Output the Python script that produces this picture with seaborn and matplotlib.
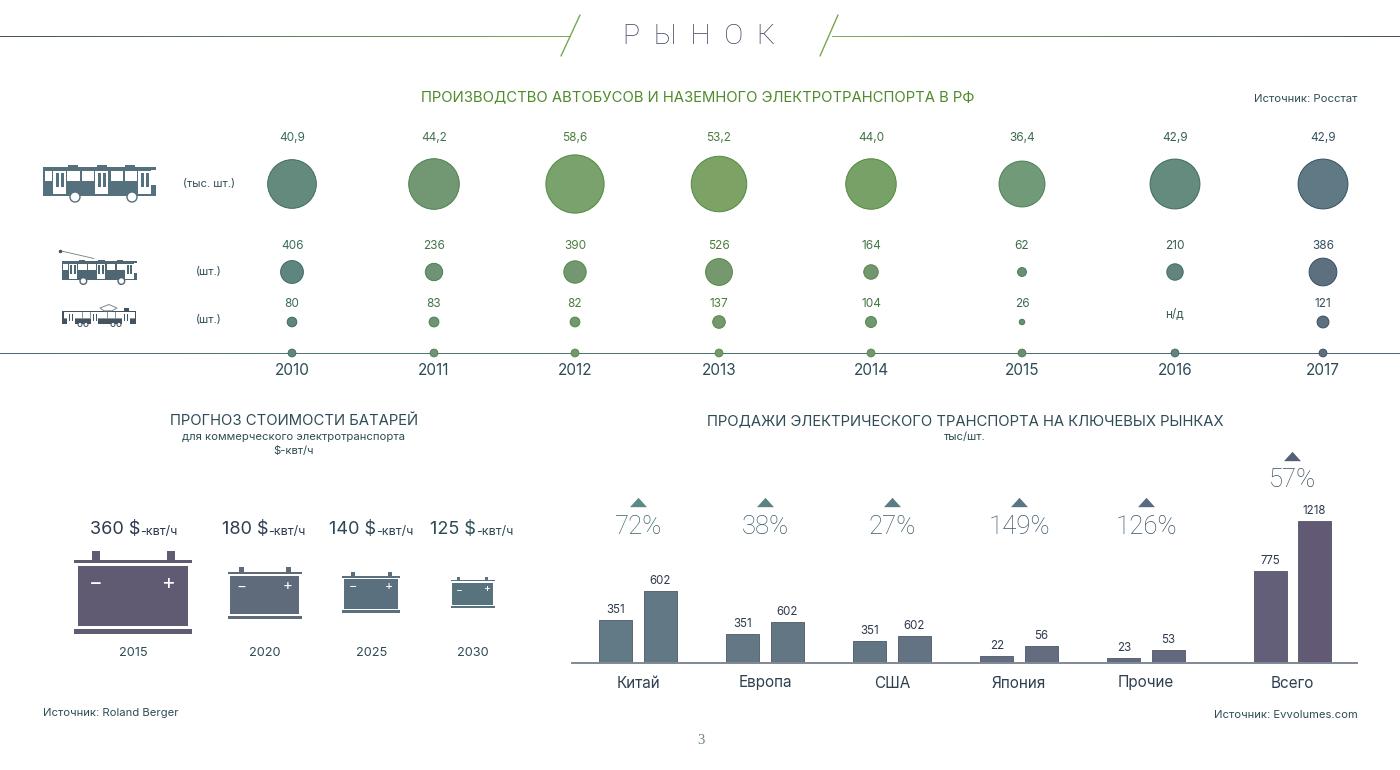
import numpy as np
import pandas as pd
import matplotlib.pyplot as plt
from matplotlib.collections import LineCollection
from matplotlib.patches import Circle, Polygon, Rectangle
import seaborn as sns

# data
years = [2010, 2011, 2012, 2013, 2014, 2015, 2016, 2017]
bus_values = [40.9, 44.2, 58.6, 53.2, 44.0, 36.4, 42.9, 42.9]
bus_labels = ['40,9', '44,2', '58,6', '53,2', '44,0', '36,4', '42,9', '42,9']
trolley_values = [406, 236, 390, 526, 164, 62, 210, 386]
trolley_drawn = [406, 236, 390, 560, 164, 62, 210, 600]  # 2017 circle is bigger than its label says
tram_labels = ['80', '83', '82', '137', '104', '26', 'н/д', '121']
tram_drawn = [80, 83, 82, 137, 104, 26, np.nan, 121]

battery_years = ['2015', '2020', '2025', '2030']
battery_prices = ['360', '180', '140', '125']

markets = ['Китай', 'Европа', 'США', 'Япония', 'Прочие', 'Всего']
sales_labels_a = ['351', '351', '351', '22', '23', '775']
sales_labels_b = ['602', '602', '602', '56', '53', '1218']
# bar heights as drawn, they do not follow the printed numbers
sales_height_a = [43, 29, 22, 7, 5, 92]
sales_height_b = [72, 41, 27, 17, 13, 142]
growth = ['72%', '38%', '27%', '149%', '126%', '57%']

# layout
YEAR_PX = [292, 434, 575, 719, 871, 1022, 1175, 1323]
MARKET_POS = [0, 1, 2, 3, 4, 5.15]
BUS_COLORS = ['#648a7d', '#719873', '#7aa26c', '#7ca365', '#78a168', '#719a78', '#658a7e', '#5f7a85']
SMALL_COLORS = ['#5f857f', '#6e9376', '#739871', '#76986f', '#72966f', '#698f70', '#628480', '#5e6f7f']
EDGE_COLORS = ['#3f6a60', '#4d8050', '#4f8a3e', '#4f8a3e', '#4f8a3e', '#4a7f55', '#3d6a60', '#35505f']
DARK_TEAL = '#2e4c56'
GREEN = '#4f8a2b'

sns.set_theme(style='white')
plt.rcParams['font.family'] = ['Inter', 'DejaVu Sans']

fig = plt.figure(figsize=(14, 7.7), dpi=100, facecolor='white')


def px_axes(left, top, right, bottom):
    return fig.add_axes([left / 1400, 1 - bottom / 770, (right - left) / 1400, (bottom - top) / 770])


canvas = px_axes(0, 0, 1400, 770)
canvas.set_xlim(0, 1400)
canvas.set_ylim(770, 0)
canvas.axis('off')


def txt(x, y, s, size, color=DARK_TEAL, ha='center', **kw):
    canvas.text(x, y, s, fontsize=size, color=color, ha=ha, va='center', **kw)


def gradient_line(x0, x1, y, c0, c1, n=80):
    xs = np.linspace(x0, x1, n + 1)
    segs = [[(xs[i], y), (xs[i + 1], y)] for i in range(n)]
    canvas.add_collection(LineCollection(segs, colors=sns.blend_palette([c0, c1], n), linewidths=0.72,
                                         antialiaseds=False, capstyle='butt'))


def draw_bus(ox, oy, k, col):
    # k = pixels per unit of the icon, origin at the top left of the body
    def r(x0, y0, x1, y1, c=col):
        canvas.add_patch(Rectangle((ox + x0 * k, oy + y0 * k), (x1 - x0) * k, (y1 - y0) * k, fc=c, lw=0))

    r(0, 0, 113, 29)
    for b in (25, 54, 82):
        r(b, -2, b + 10, 0)
    for a, b in ((2, 9), (24, 37), (39, 51), (68, 80), (82, 94)):
        r(a, 4, b, 14, 'white')
    r(108, 3, 113, 18, 'white')
    for d in (10, 52, 95):
        r(d, 4, d + 13, 27, 'white')
        r(d + 2.5, 6, d + 5.5, 20)
        r(d + 7.5, 6, d + 10.5, 20)
    for w in (32, 89):
        canvas.add_patch(Circle((ox + w * k, oy + 30 * k), 5 * k, fc='white', ec=col, lw=1, zorder=3))


def draw_tram(ox, oy, col):
    def r(x0, y0, x1, y1, c=col):
        canvas.add_patch(Rectangle((ox + x0, oy + y0), x1 - x0, y1 - y0, fc=c, lw=0))

    r(1, 0, 73, 1.2)
    r(1, 7, 73, 8, '#8a98a0')
    for g in (20, 28, 45, 53):
        r(g, 1, g + 0.8, 7, '#8a98a0')
    r(0, 8, 74, 13)
    r(0, 0, 1.5, 13)
    r(72.5, 0, 74, 13)
    for a, b in ((5, 13), (29, 36), (60, 68)):
        r(a, 1, b, 14, 'white')
        r(a + 1.5, 3, a + 3.2, 10)
        r(a + 4.5, 3, a + 6.2, 10)
    for w in (18, 24, 51, 57):
        canvas.add_patch(Circle((ox + w, oy + 13.5), 2, fc='white', ec=col, lw=0.7, zorder=3))
    canvas.add_patch(Polygon([(ox + 47, oy - 6.5), (ox + 55, oy - 3), (ox + 50, oy - 0.2), (ox + 42, oy - 0.2), (ox + 38, oy - 3)],
                             closed=True, fc='white', ec='#7a8a90', lw=0.7))
    r(62, -3, 67, 0)


def draw_battery(cx, top, s, col):
    def r(x0, y0, x1, y1):
        canvas.add_patch(Rectangle((cx + x0 * s, top + y0 * s), (x1 - x0) * s, (y1 - y0) * s, fc=col, lw=0))

    r(-41, 0, -33, 9)
    r(34, 0, 42, 9)
    r(-59, 9, 59, 12)
    r(-55, 15, 55, 75)
    r(-59, 78, 59, 83)
    canvas.text(cx - 37 * s, top + 31.5 * s, '−', fontsize=15 * s ** 0.7, color='white', ha='center', va='center')
    canvas.text(cx + 36 * s, top + 31.5 * s, '+', fontsize=15 * s ** 0.7, color='white', ha='center', va='center')


# header
gradient_line(0, 570, 35.5, '#44535f', '#7cab5c')
gradient_line(832, 1400, 35.5, '#7cab5c', '#44535f')
canvas.plot([580, 561], [15, 56], color='#74a84e', lw=1.0)
canvas.plot([838, 820], [15, 56], color='#74a84e', lw=1.0)
txt(699, 37, 'Р  Ы  Н  О  К', 20.5, '#3d4560', family=['Roboto', 'DejaVu Sans'], fontweight='light')

txt(698, 97.5, 'ПРОИЗВОДСТВО АВТОБУСОВ И НАЗЕМНОГО ЭЛЕКТРОТРАНСПОРТА В РФ', 10.7, GREEN)
txt(1357, 98.5, 'Источник: Росстат', 8.1, ha='right')

# top chart, years keep their uneven spacing through the scale
gradient_line(0, 292, 352.5, '#4e6672', '#4e7a72')
gradient_line(292, 1400, 352.5, '#4e7a72', '#4e6672')
ax = px_axes(292, 120, 1323, 353)
ax.patch.set_alpha(0)
ax.set_xscale('function', functions=(lambda v: np.interp(v, years, YEAR_PX),
                                     lambda v: np.interp(v, YEAR_PX, years)))
ax.set_xlim(2010, 2017)
ax.set_ylim(353, 120)
sns.despine(ax=ax, left=True, bottom=True)


def bubble_row(values, y, size_per_unit, colors):
    df = pd.DataFrame({'year': years, 'value': values, 'y': y, 'edge': EDGE_COLORS}).dropna()
    sns.scatterplot(data=df, x='year', y='y', hue='year', palette=dict(zip(years, colors)), size='value',
                    sizes=(0, size_per_unit * 1000), size_norm=(0, 1000), legend=False, ax=ax, clip_on=False,
                    edgecolor=df['edge'].tolist(), linewidth=0.7, zorder=4)


bubble_row(bus_values, 184, 30.0, BUS_COLORS)
bubble_row(trolley_drawn, 272, 0.664, SMALL_COLORS)
bubble_row(tram_drawn, 322, 0.6, SMALL_COLORS)
sns.scatterplot(x=years, y=[353] * 8, hue=years, palette=dict(zip(years, SMALL_COLORS)), s=32, legend=False, ax=ax,
                clip_on=False, edgecolor=EDGE_COLORS, linewidth=0.6, zorder=4)

label_colors = sns.blend_palette(['#3b6a5f', '#4f8038', '#3f7048', '#34505f'], 8)
for i, yr in enumerate(years):
    ax.text(yr, 138, bus_labels[i], fontsize=8.5, color=label_colors[i], ha='center', va='center')
    ax.text(yr, 246, str(trolley_values[i]), fontsize=8.5, color=label_colors[i], ha='center', va='center')
    tram_y = 315 if tram_labels[i] == 'н/д' else 304
    ax.text(yr, tram_y, tram_labels[i], fontsize=8.5, color=label_colors[i], ha='center', va='center')

ax.set_xticks(years, labels=[str(y) for y in years])
ax.minorticks_off()
ax.tick_params(axis='x', length=0, pad=7, labelsize=11, labelcolor=DARK_TEAL)
ax.set_yticks([])
ax.set_xlabel('')
ax.set_ylabel('')

draw_bus(43, 167, 1.0, '#56717e')
draw_bus(62, 261, 0.667, '#4f6673')
canvas.plot([94, 60], [258.5, 250.7], color='#6d7d85', lw=0.6)
canvas.plot([60], [250.7], 'o', ms=1.5, color='#44535f')
draw_tram(62, 311, '#44535f')
txt(209, 183.5, '(тыс. шт.)', 8)
txt(209, 272.5, '(шт.)', 8)
txt(209, 319.5, '(шт.)', 8)

# batteries
txt(294, 421, 'ПРОГНОЗ СТОИМОСТИ БАТАРЕЙ', 10.7)
txt(294, 437, 'для коммерческого электротранспорта', 8.1)
txt(294, 451, '$-квт/ч', 8.1)
bat_x = [132.7, 264.7, 371.4, 472.7]
bat_top = [551, 566.7, 572, 577]
bat_scale = [1.0, 0.627, 0.49, 0.374]
bat_colors = ['#605a73', '#5f6a7b', '#5a707f', '#58727e']
bat_text_x = [133, 265, 372, 473]
for i in range(4):
    draw_battery(bat_x[i], bat_top[i], bat_scale[i], bat_colors[i])
    col = ['#2f3850', '#2f3d52', '#2e4656', '#2e4c56'][i]
    t = canvas.annotate(battery_prices[i] + ' $', (bat_text_x[i] - 43, 529), fontsize=13, color=col,
                        ha='left', va='center')
    canvas.annotate('-квт/ч', xy=(1, 0), xycoords=t, xytext=(0, 0), textcoords='offset points', fontsize=9,
                    color=col, ha='left', va='bottom')
    txt(bat_text_x[i], 653, battery_years[i], 9.2)
txt(43, 713.5, 'Источник: Roland Berger', 8.1, ha='left')

# sales bars
txt(965, 421, 'ПРОДАЖИ ЭЛЕКТРИЧЕСКОГО ТРАНСПОРТА НА КЛЮЧЕВЫХ РЫНКАХ', 10.7)
txt(965, 437, 'тыс/шт.', 8.1)
txt(1358, 714.5, 'Источник: Evvolumes.com', 8.1, ha='right')
txt(701, 741, '3', 10.5, '#6b7f88', family=['Liberation Serif', 'DejaVu Sans'])

bx = px_axes(572, 400, 1357, 663)
bx.patch.set_alpha(0)
sales = pd.DataFrame({
    'pos': MARKET_POS * 2,
    'height': sales_height_a + sales_height_b,
    'period': ['a'] * 6 + ['b'] * 6,
})
sns.barplot(data=sales, x='pos', y='height', hue='period', native_scale=True, width=0.693, gap=0.25, dodge=True,
            legend=False, ax=bx)
bx.set_xlim((572 - 638) / 127, (1357 - 638) / 127)
bx.set_ylim(0, 263)
bar_cols_a = ['#627a85', '#637884', '#627583', '#636c80', '#646a7e', '#635f78']
bar_cols_b = ['#627885', '#637683', '#637384', '#646c80', '#64687e', '#625a75']
for cont, cols, labs in zip(bx.containers, (bar_cols_a, bar_cols_b), (sales_labels_a, sales_labels_b)):
    for patch, c in zip(cont, cols):
        patch.set_facecolor(c)
        patch.set_edgecolor('#4c5868')
        patch.set_linewidth(0.6)
    bx.bar_label(cont, labels=labs, padding=3, fontsize=8.3, color='#2f3a4e')
sns.despine(ax=bx, left=True)
bx.spines['bottom'].set_color('#7f8895')
bx.spines['bottom'].set_linewidth(1.4)
bx.set_yticks([])
bx.set_xticks(MARKET_POS, labels=markets)
bx.tick_params(axis='x', length=0, pad=9, labelsize=11, labelcolor='#2f3f50')
bx.set_xlabel('')
bx.set_ylabel('')
tri_cols = ['#5a8a84', '#5a8484', '#5a7c84', '#5a7684', '#5a6a80', '#555f78']
pct_cols = ['#3a626c', '#3a5e6b', '#3a5a6a', '#3a556a', '#3a5066', '#3a5062']
flat_triangle = [(-1, -0.55), (1, -0.55), (0, 0.55)]
for i, p in enumerate(MARKET_POS):
    lift = 46 if i == 5 else 0
    bx.scatter([p], [161 + lift], marker=flat_triangle, s=150, color=tri_cols[i], lw=0, clip_on=False)
    bx.text(p, 136 + lift + (1 if i == 5 else 0), growth[i], fontsize=18.5, color=pct_cols[i], ha='center', va='center',
            family=['Roboto', 'DejaVu Sans'], fontweight='light')

fig.savefig('out.png', dpi=100)
